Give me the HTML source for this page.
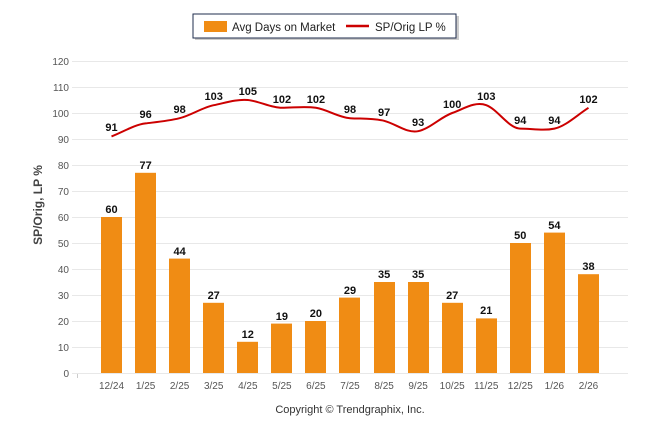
<!DOCTYPE html>
<html><head><meta charset="utf-8"><style>
body{margin:0;background:#fff;}
svg{display:block;font-family:"Liberation Sans",Arial,sans-serif;}
.yl{font-size:10px;fill:#555;text-anchor:end}
.xl{font-size:10px;fill:#555;text-anchor:middle}
.bv{font-size:11px;font-weight:bold;fill:#111;text-anchor:middle}
</style></head><body>
<svg width="646" height="434" viewBox="0 0 646 434">
<rect x="195" y="16" width="264" height="24" fill="#999" opacity="0.5"/>
<rect x="193" y="14" width="263" height="24" fill="#fff" stroke="#1f2d4d" stroke-width="1"/>
<rect x="204" y="21" width="23" height="11" fill="#f08c14"/>
<text x="232" y="31" font-size="11.5" fill="#222">Avg Days on Market</text>
<line x1="346" y1="26" x2="369" y2="26" stroke="#c00" stroke-width="2.5"/>
<text x="375" y="31" font-size="11.5" fill="#222">SP/Orig LP %</text>
<g stroke="#e8e8e8" stroke-width="1">
<line x1="72" y1="61.5" x2="628" y2="61.5"/><line x1="72" y1="87.5" x2="628" y2="87.5"/>
<line x1="72" y1="113.5" x2="628" y2="113.5"/><line x1="72" y1="139.5" x2="628" y2="139.5"/>
<line x1="72" y1="165.5" x2="628" y2="165.5"/><line x1="72" y1="191.5" x2="628" y2="191.5"/>
<line x1="72" y1="217.5" x2="628" y2="217.5"/><line x1="72" y1="243.5" x2="628" y2="243.5"/>
<line x1="72" y1="269.5" x2="628" y2="269.5"/><line x1="72" y1="295.5" x2="628" y2="295.5"/>
<line x1="72" y1="321.5" x2="628" y2="321.5"/><line x1="72" y1="347.5" x2="628" y2="347.5"/>
<line x1="72" y1="373.5" x2="628" y2="373.5"/>
</g>
<g class="yl">
<text x="69" y="65">120</text><text x="69" y="91">110</text><text x="69" y="117">100</text>
<text x="69" y="143">90</text><text x="69" y="169">80</text><text x="69" y="195">70</text>
<text x="69" y="221">60</text><text x="69" y="247">50</text><text x="69" y="273">40</text>
<text x="69" y="299">30</text><text x="69" y="325">20</text><text x="69" y="351">10</text>
<text x="69" y="377">0</text>
</g>
<text transform="translate(42,205) rotate(-90)" font-size="12" font-weight="bold" fill="#444" text-anchor="middle">SP/Orig, LP %</text>
<g fill="#f08c14">
<rect x="101" y="217" width="21" height="156"/>
<rect x="135" y="172.8" width="21" height="200.2"/>
<rect x="169" y="258.6" width="21" height="114.4"/>
<rect x="203" y="302.8" width="21" height="70.2"/>
<rect x="237" y="341.8" width="21" height="31.2"/>
<rect x="271" y="323.6" width="21" height="49.4"/>
<rect x="305" y="321" width="21" height="52"/>
<rect x="339" y="297.6" width="21" height="75.4"/>
<rect x="374" y="282" width="21" height="91"/>
<rect x="408" y="282" width="21" height="91"/>
<rect x="442" y="302.8" width="21" height="70.2"/>
<rect x="476" y="318.4" width="21" height="54.6"/>
<rect x="510" y="243" width="21" height="130"/>
<rect x="544" y="232.6" width="21" height="140.4"/>
<rect x="578" y="274.2" width="21" height="98.8"/>
</g>
<g class="bv">
<text x="111.5" y="213">60</text><text x="145.6" y="169">77</text><text x="179.6" y="255">44</text>
<text x="213.7" y="299">27</text><text x="247.8" y="338">12</text><text x="281.9" y="320">19</text>
<text x="315.9" y="317">20</text><text x="350" y="294">29</text><text x="384.1" y="278">35</text>
<text x="418.1" y="278">35</text><text x="452.2" y="299">27</text><text x="486.3" y="314">21</text>
<text x="520.3" y="239">50</text><text x="554.4" y="229">54</text><text x="588.5" y="270">38</text>
</g>
<path fill="none" stroke="#c00" stroke-width="2" d="M111.5 136.4 C122.9 132,134.2 124.8,145.6 123.4 S168.2 121,179.6 118.2 S202.3 107.5,213.7 105.2 S236.4 99,247.8 100 S270.5 107.8,281.9 107.8 S304.5 106,315.9 107.8 S338.6 117.5,350 118.2 S372.7 118,384.1 120.8 S406.7 133.5,418.1 131.2 S440.8 117,452.2 113 S474.9 101,486.3 105.2 S508.9 128.6,520.3 128.6 S543 131,554.4 128.6 S577.1 115,588.5 107.8"/>
<g class="bv">
<text x="111.5" y="131">91</text><text x="145.6" y="118">96</text><text x="179.6" y="113">98</text>
<text x="213.7" y="100">103</text><text x="247.8" y="95">105</text><text x="281.9" y="103">102</text>
<text x="315.9" y="103">102</text><text x="350" y="113">98</text><text x="384.1" y="116">97</text>
<text x="418.1" y="126">93</text><text x="452.2" y="108">100</text><text x="486.3" y="100">103</text>
<text x="520.3" y="124">94</text><text x="554.4" y="124">94</text><text x="588.5" y="103">102</text>
</g>
<g stroke="#ccc"><line x1="77.5" y1="374" x2="77.5" y2="378"/></g>
<g class="xl">
<text x="111.5" y="389">12/24</text><text x="145.6" y="389">1/25</text><text x="179.6" y="389">2/25</text>
<text x="213.7" y="389">3/25</text><text x="247.8" y="389">4/25</text><text x="281.9" y="389">5/25</text>
<text x="315.9" y="389">6/25</text><text x="350" y="389">7/25</text><text x="384.1" y="389">8/25</text>
<text x="418.1" y="389">9/25</text><text x="452.2" y="389">10/25</text><text x="486.3" y="389">11/25</text>
<text x="520.3" y="389">12/25</text><text x="554.4" y="389">1/26</text><text x="588.5" y="389">2/26</text>
</g>
<text x="350" y="413" font-size="11" fill="#333" text-anchor="middle">Copyright © Trendgraphix, Inc.</text>
</svg>
</body></html>
